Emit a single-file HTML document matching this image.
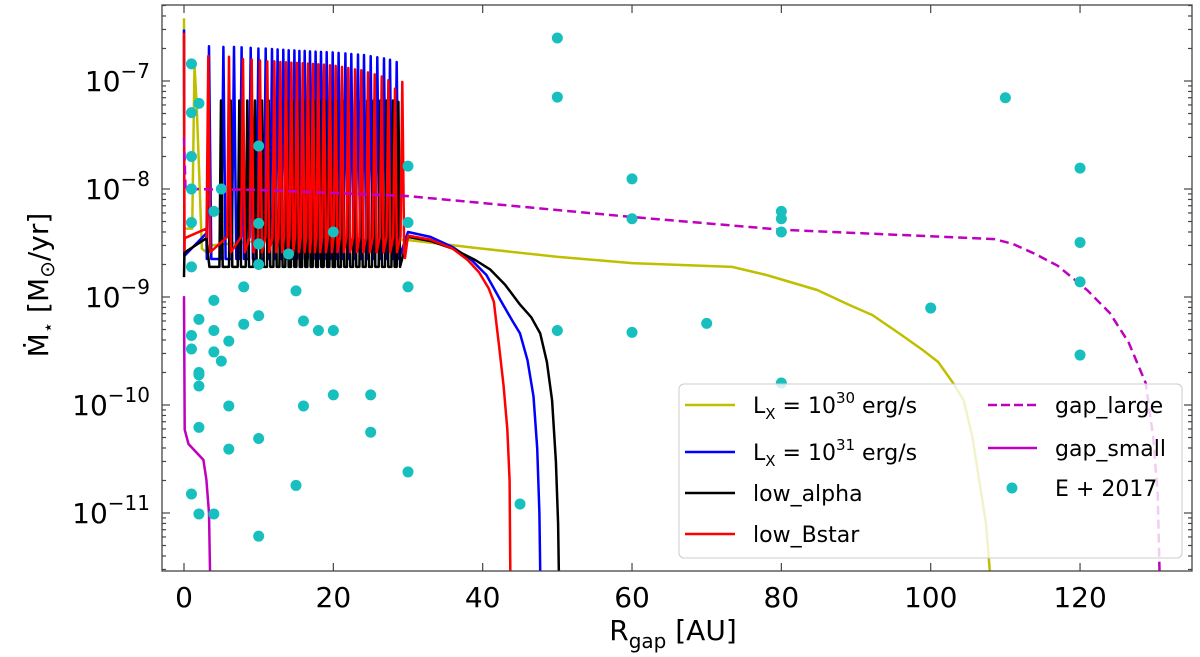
<!DOCTYPE html>
<html><head><meta charset="utf-8"><style>
body{margin:0;background:#fff;}
svg{display:block;font-family:"DejaVu Sans","Liberation Sans",sans-serif;}
</style></head><body>
<svg id="chart" width="1200" height="657" viewBox="0 0 1200 657" xmlns="http://www.w3.org/2000/svg">
<defs><clipPath id="clip"><rect x="162" y="5" width="1030" height="566"/></clipPath></defs>
<rect x="0" y="0" width="1200" height="657" fill="#fff"/>
<g id="lines" clip-path="url(#clip)"></g>
<g id="pts" clip-path="url(#clip)"></g>
<rect x="162" y="5" width="1030" height="566" fill="none" stroke="#444" stroke-width="1.3"/>
<g id="ticks"></g>
<text x="673" y="640" font-size="28" text-anchor="middle">R<tspan font-size="20" dy="8">gap</tspan><tspan dy="-8"> [AU]</tspan></text>
<text transform="translate(48,285) rotate(-90)" font-size="28" text-anchor="middle">Ṁ<tspan font-size="18" dy="6">⋆</tspan><tspan dy="-6"> [M</tspan><tspan font-size="20" dy="6">⊙</tspan><tspan dy="-6">/yr]</tspan></text>
<g>
<rect x="679" y="384" width="503" height="174" rx="5" fill="rgba(255,255,255,0.8)" stroke="#ccc" stroke-width="1"/>
<line x1="685" y1="405" x2="735" y2="405" stroke="#bfbf00" stroke-width="2.5"/>
<text x="753" y="413" font-size="22">L<tspan font-size="15" dy="6">X</tspan><tspan dy="-6"> = 10</tspan><tspan font-size="15" dy="-10">30</tspan><tspan dy="10"> erg/s</tspan></text>
<line x1="685" y1="452" x2="735" y2="452" stroke="#0000ff" stroke-width="2.5"/>
<text x="753" y="460" font-size="22">L<tspan font-size="15" dy="6">X</tspan><tspan dy="-6"> = 10</tspan><tspan font-size="15" dy="-10">31</tspan><tspan dy="10"> erg/s</tspan></text>
<line x1="685" y1="493" x2="735" y2="493" stroke="#000" stroke-width="2.5"/>
<text x="753" y="501" font-size="22">low_alpha</text>
<line x1="685" y1="534" x2="735" y2="534" stroke="#ff0000" stroke-width="2.5"/>
<text x="753" y="542" font-size="22">low_Bstar</text>
<line x1="988" y1="405" x2="1037" y2="405" stroke="#bf00bf" stroke-width="2.5" stroke-dasharray="9,4"/>
<text x="1055" y="413" font-size="22">gap_large</text>
<line x1="988" y1="448" x2="1037" y2="448" stroke="#bf00bf" stroke-width="2.5"/>
<text x="1055" y="456" font-size="22">gap_small</text>
<circle cx="1012" cy="488" r="5.5" fill="#17bfbf"/>
<text x="1055" y="496" font-size="22">E + 2017</text>
</g>
</svg>
<script>
// ---- data ----
const xTicks=[0,20,40,60,80,100,120];
const yTickExps=[-7,-8,-9,-10,-11];
const scatterX=[1,1,1,1,1,1,1,1,1, 2,2,2,2,2,2,2, 4,4,4,4,4, 5,5, 6,6,6, 8,8, 10,10,10,10,10,10,10, 14, 15,15, 16,16, 18, 20,20,20, 25,25, 30,30,30,30, 45, 50,50,50, 60,60,60, 70, 80,80,80,80, 100, 110, 120,120,120,120];
const scatterY=[1.44e-7,5.1e-8,2.0e-8,1.0e-8,4.9e-9,1.9e-9,4.4e-10,3.3e-10,1.5e-11,
 6.2e-8,6.2e-10,2.0e-10,1.9e-10,1.5e-10,6.2e-11,9.8e-12,
 6.2e-9,9.3e-10,4.9e-10,3.1e-10,9.8e-12,
 2.55e-10,1.0e-8,
 3.9e-10,9.8e-11,3.9e-11,
 1.24e-9,5.6e-10,
 2.5e-8,4.8e-9,3.1e-9,2.0e-9,6.7e-10,4.9e-11,6.1e-12,
 2.5e-9,
 1.14e-9,1.8e-11,
 6.0e-10,9.8e-11,
 4.9e-10,
 4.0e-9,4.9e-10,1.24e-10,
 1.24e-10,5.6e-11,
 1.63e-8,4.9e-9,1.24e-9,2.4e-11,
 1.21e-11,
 2.5e-7,7.1e-8,4.9e-10,
 1.24e-8,5.3e-9,4.7e-10,
 5.7e-10,
 6.2e-9,5.3e-9,4.0e-9,1.6e-10,
 7.9e-10,
 7.0e-8,
 1.56e-8,3.2e-9,1.38e-9,2.9e-10];

const yellowX=[0,0.05,1.1,1.4,1.7,2.4,3.0,3.5,10,30,39,50.1,60,73.4,78,84.8,89,92.2,96,99,101,103,104.4,105.6,106.5,107.4,107.9,108.2];
const yellowY=[3.8e-7,4.3e-9,4.3e-9,1.4e-7,6e-8,2.8e-9,2.6e-9,3.0e-9,3.3e-9,3.37e-9,2.85e-9,2.35e-9,2.06e-9,1.9e-9,1.6e-9,1.16e-9,8.5e-10,6.8e-10,4.5e-10,3.2e-10,2.5e-10,1.6e-10,1.11e-10,5e-11,2e-11,8e-12,3e-12,1e-12];

const blueStartX=[0,0.05,3.0];
const blueStartY=[3.0e-7,2.4e-9,3.9e-9];
const bluePeakX=[3.35,5.27,6.70,7.72,8.93,9.96,10.94,11.79,12.54,13.30,14.02,14.78,15.45,16.16,16.88,17.63,18.35,19.11,19.91,20.71,21.61,22.41,23.30,24.11,25.0,25.89,26.79,27.59,28.48];
const bluePeakY=[2.1e-7,2.07e-7,2.07e-7,2.05e-7,2.03e-7,2.0e-7,2.0e-7,1.98e-7,1.96e-7,1.95e-7,1.93e-7,1.92e-7,1.9e-7,1.9e-7,1.88e-7,1.87e-7,1.86e-7,1.85e-7,1.84e-7,1.82e-7,1.8e-7,1.78e-7,1.76e-7,1.74e-7,1.7e-7,1.66e-7,1.62e-7,1.57e-7,1.5e-7];
const blueTrough=2.25e-9;
const blueEndX=[30,33,36,38.5,40.5,42.4,44,45,46,46.8,47.3,47.6,47.8];
const blueEndY=[4.0e-9,3.6e-9,2.9e-9,2.2e-9,1.6e-9,9.3e-10,6e-10,4.6e-10,2.6e-10,1.2e-10,4e-11,1e-11,1e-12];

const blackStartX=[0,0.05,3.0,3.4];
const blackStartY=[1.53e-9,2.57e-9,3.5e-9,1.9e-9];
const blackPeakX=[4.96,6.25,7.41,8.48,9.51,10.45,11.34,12.19,12.99,13.79,14.55,15.27,16.03,16.74,17.46,18.17,18.93,19.69,20.45,21.25,22.05,22.86,23.71,24.55,25.40,26.29,27.14,27.99,28.71];
const blackPeakY=[6.6e-8,6.6e-8,6.6e-8,6.6e-8,6.6e-8,6.6e-8,6.6e-8,6.6e-8,6.6e-8,6.6e-8,6.6e-8,6.6e-8,6.6e-8,6.6e-8,6.6e-8,6.6e-8,6.6e-8,6.6e-8,6.6e-8,6.6e-8,6.6e-8,6.6e-8,6.6e-8,6.6e-8,6.6e-8,6.6e-8,6.6e-8,6.6e-8,6.4e-8];
const blackTrough=1.9e-9;
const blackEndX=[30,33,36,39,41,43,45,46.5,47.7,48.6,49.3,49.8,50.1,50.3];
const blackEndY=[3.6e-9,3.3e-9,2.8e-9,2.2e-9,1.8e-9,1.3e-9,8.5e-10,6.5e-10,4.6e-10,2.5e-10,1.1e-10,3e-11,8e-12,1e-12];

const redStartX=[0,0.05,0.1,3.0];
const redStartY=[2.8e-7,2.7e-9,3.5e-9,4.3e-9];
const redPeakX=[3.26,6.03,7.90,9.06,10.18,11.16,12.10,12.90,13.66,14.38,15.13,15.89,16.61,17.28,17.99,18.75,19.55,20.31,21.16,22.01,22.90,23.75,24.64,25.54,26.47,27.37,28.26,29.24];
const redPeakY=[1.7e-7,1.68e-7,1.6e-7,1.58e-7,1.55e-7,1.52e-7,1.52e-7,1.5e-7,1.49e-7,1.48e-7,1.47e-7,1.46e-7,1.45e-7,1.44e-7,1.43e-7,1.42e-7,1.4e-7,1.38e-7,1.35e-7,1.32e-7,1.28e-7,1.26e-7,1.2e-7,1.15e-7,1.1e-7,1.02e-7,8.5e-8,9.8e-8];
const redTroughLow=2.6e-9;
const redTroughHigh=3.6e-9;
const redEndX=[29.6,30,33,36,38,39.5,40.8,41.5,41.8,42.2,42.8,43.3,43.6,43.75];
const redEndY=[2.3e-9,3.7e-9,3.4e-9,2.8e-9,2.2e-9,1.7e-9,1.2e-9,9e-10,6e-10,3.5e-10,1.5e-10,6e-11,2e-11,1e-12];

const gapLargeX=[0,0.2,10,30,60,80,108.5,111,114,117,118.7,121,124,126.5,128.8,129.8,130.4,130.8];
const gapLargeY=[3e-8,1e-8,9.8e-9,8.6e-9,5.5e-9,4.2e-9,3.44e-9,3.1e-9,2.5e-9,1.95e-9,1.56e-9,1.15e-9,7.1e-10,3.8e-10,1.6e-10,5e-11,1.5e-11,1e-12];
const gapSmallX=[0,0.1,0.6,2.6,3.0,3.35,3.6];
const gapSmallY=[1.02e-9,5.9e-11,4.35e-11,3.1e-11,2.03e-11,1e-11,1e-12];

// ---- scales ----
const X=v=>184+v*7.467;
const Y=v=>81-(Math.log10(v)+7)*108;
const NS='http://www.w3.org/2000/svg';
function mk(tag,parent){const e=document.createElementNS(NS,tag);parent.appendChild(e);return e;}
const gL=document.getElementById('lines'),gP=document.getElementById('pts'),gT=document.getElementById('ticks');

function oscPts(sx,sy,px,py,trPre,trPost,w,ex,ey){
  const p=[];
  for(let i=0;i<sx.length;i++)p.push([sx[i],sy[i]]);
  for(let i=0;i<px.length;i++){p.push([px[i]-w,trPre]);p.push([px[i],py[i]]);p.push([px[i]+w,trPost]);}
  for(let i=0;i<ex.length;i++)p.push([ex[i],ey[i]]);
  return p;
}
function zipPts(xs,ys){return xs.map((x,i)=>[x,ys[i]]);}
function drawLine(pts,color,name,dash){
  const e=mk('polyline',gL);
  e.setAttribute('points',pts.map(p=>X(p[0]).toFixed(1)+','+Y(p[1]).toFixed(1)).join(' '));
  e.setAttribute('fill','none');e.setAttribute('stroke',color);e.setAttribute('stroke-width','2.5');
  e.setAttribute('stroke-linejoin','round');
  if(dash)e.setAttribute('stroke-dasharray',dash);
  
  
}
drawLine(zipPts(yellowX,yellowY),'#bfbf00','series-lx30');
drawLine(oscPts(blueStartX,blueStartY,bluePeakX,bluePeakY,blueTrough,blueTrough,0.3,blueEndX,blueEndY),'#0000ff','series-lx31');
drawLine(oscPts(blackStartX,blackStartY,blackPeakX,blackPeakY,blackTrough,blackTrough,0.22,blackEndX,blackEndY),'#000000','series-low-alpha');
drawLine(oscPts(redStartX,redStartY,redPeakX,redPeakY,redTroughHigh,redTroughLow,0.25,redEndX,redEndY),'#ff0000','series-low-bstar');
drawLine(zipPts(gapLargeX,gapLargeY),'#bf00bf','series-gap-large','9,5');
drawLine(zipPts(gapSmallX,gapSmallY),'#bf00bf','series-gap-small');

for(let i=0;i<scatterX.length;i++){
  const c=mk('circle',gP);
  c.setAttribute('cx',X(scatterX[i]));c.setAttribute('cy',Y(scatterY[i]));c.setAttribute('r','5.5');c.setAttribute('fill','#17bfbf');
  
  
}

function tick(x1,y1,x2,y2){const l=mk('line',gT);l.setAttribute('x1',x1);l.setAttribute('y1',y1);l.setAttribute('x2',x2);l.setAttribute('y2',y2);l.setAttribute('stroke','#444');l.setAttribute('stroke-width','1.2');}
xTicks.forEach(v=>{
  const x=X(v);tick(x,571,x,563);tick(x,5,x,13);
  const t=mk('text',gT);t.setAttribute('x',x);t.setAttribute('y',607);t.setAttribute('font-size','28');t.setAttribute('text-anchor','middle');t.textContent=v;
  
  
});
yTickExps.forEach(ex=>{
  const y=Y(Math.pow(10,ex));tick(162,y,170,y);tick(1192,y,1184,y);
  const t=mk('text',gT);t.setAttribute('x',150);t.setAttribute('y',y+10);t.setAttribute('font-size','28');t.setAttribute('text-anchor','end');
  t.innerHTML='10<tspan font-size="20" dy="-13">−'+(-ex)+'</tspan>';
  
  
});
for(let ex=-12;ex<=-7;ex++){for(let m=2;m<=9;m++){const y=Y(m*Math.pow(10,ex));if(y<5||y>571)continue;tick(162,y,166,y);tick(1192,y,1188,y);}}
</script>
</body></html>
